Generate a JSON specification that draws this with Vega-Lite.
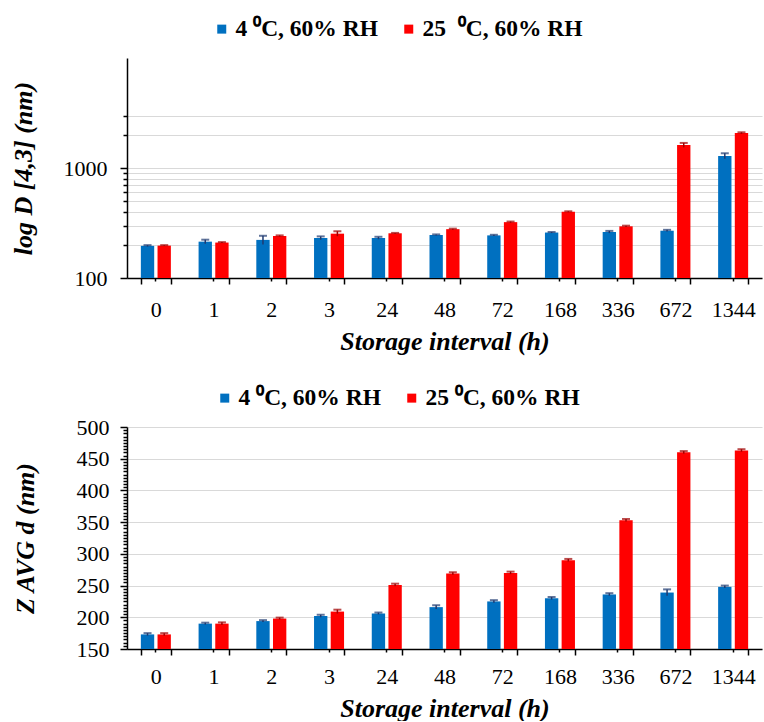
{
  "$schema": "https://vega.github.io/schema/vega-lite/v6.json",
  "background": "white",
  "padding": {"left": 10, "top": 17, "right": 1, "bottom": 0},
  "datasets": {
    "d43": [
      {"t": "0", "s": "4 ⁰C, 60% RH", "v": 196, "lo": 193, "hi": 199},
      {"t": "0", "s": "25\u00a0\u00a0⁰C, 60% RH", "v": 197, "lo": 195, "hi": 199},
      {"t": "1", "s": "4 ⁰C, 60% RH", "v": 214, "lo": 205, "hi": 223},
      {"t": "1", "s": "25\u00a0\u00a0⁰C, 60% RH", "v": 210, "lo": 208, "hi": 212},
      {"t": "2", "s": "4 ⁰C, 60% RH", "v": 222, "lo": 202, "hi": 242},
      {"t": "2", "s": "25\u00a0\u00a0⁰C, 60% RH", "v": 241, "lo": 238, "hi": 244},
      {"t": "3", "s": "4 ⁰C, 60% RH", "v": 231, "lo": 223, "hi": 239},
      {"t": "3", "s": "25\u00a0\u00a0⁰C, 60% RH", "v": 253, "lo": 240, "hi": 266},
      {"t": "24", "s": "4 ⁰C, 60% RH", "v": 231, "lo": 225, "hi": 237},
      {"t": "24", "s": "25\u00a0\u00a0⁰C, 60% RH", "v": 255, "lo": 253, "hi": 257},
      {"t": "48", "s": "4 ⁰C, 60% RH", "v": 246, "lo": 243, "hi": 249},
      {"t": "48", "s": "25\u00a0\u00a0⁰C, 60% RH", "v": 278, "lo": 275, "hi": 281},
      {"t": "72", "s": "4 ⁰C, 60% RH", "v": 244, "lo": 241, "hi": 247},
      {"t": "72", "s": "25\u00a0\u00a0⁰C, 60% RH", "v": 322, "lo": 318, "hi": 326},
      {"t": "168", "s": "4 ⁰C, 60% RH", "v": 259, "lo": 256, "hi": 262},
      {"t": "168", "s": "25\u00a0\u00a0⁰C, 60% RH", "v": 400, "lo": 396, "hi": 404},
      {"t": "336", "s": "4 ⁰C, 60% RH", "v": 262, "lo": 256, "hi": 268},
      {"t": "336", "s": "25\u00a0\u00a0⁰C, 60% RH", "v": 295, "lo": 291, "hi": 299},
      {"t": "672", "s": "4 ⁰C, 60% RH", "v": 269, "lo": 264, "hi": 274},
      {"t": "672", "s": "25\u00a0\u00a0⁰C, 60% RH", "v": 1615, "lo": 1540, "hi": 1690},
      {"t": "1344", "s": "4 ⁰C, 60% RH", "v": 1286, "lo": 1211, "hi": 1361},
      {"t": "1344", "s": "25\u00a0\u00a0⁰C, 60% RH", "v": 2077, "lo": 2042, "hi": 2112}
    ],
    "zavg": [
      {"t": "0", "s": "4 ⁰C, 60% RH", "v": 173, "lo": 171, "hi": 175},
      {"t": "0", "s": "25 ⁰C, 60% RH", "v": 173, "lo": 171, "hi": 175},
      {"t": "1", "s": "4 ⁰C, 60% RH", "v": 190, "lo": 188.5, "hi": 191.5},
      {"t": "1", "s": "25 ⁰C, 60% RH", "v": 190, "lo": 188, "hi": 192},
      {"t": "2", "s": "4 ⁰C, 60% RH", "v": 194, "lo": 192.5, "hi": 195.5},
      {"t": "2", "s": "25 ⁰C, 60% RH", "v": 198, "lo": 196.5, "hi": 199.5},
      {"t": "3", "s": "4 ⁰C, 60% RH", "v": 202, "lo": 200, "hi": 204},
      {"t": "3", "s": "25 ⁰C, 60% RH", "v": 209, "lo": 206, "hi": 212},
      {"t": "24", "s": "4 ⁰C, 60% RH", "v": 206, "lo": 204.5, "hi": 207.5},
      {"t": "24", "s": "25 ⁰C, 60% RH", "v": 251, "lo": 249, "hi": 253},
      {"t": "48", "s": "4 ⁰C, 60% RH", "v": 216, "lo": 213, "hi": 219},
      {"t": "48", "s": "25 ⁰C, 60% RH", "v": 269, "lo": 267, "hi": 271},
      {"t": "72", "s": "4 ⁰C, 60% RH", "v": 225, "lo": 223, "hi": 227},
      {"t": "72", "s": "25 ⁰C, 60% RH", "v": 270, "lo": 268, "hi": 272},
      {"t": "168", "s": "4 ⁰C, 60% RH", "v": 230, "lo": 228, "hi": 232},
      {"t": "168", "s": "25 ⁰C, 60% RH", "v": 290, "lo": 288, "hi": 292},
      {"t": "336", "s": "4 ⁰C, 60% RH", "v": 236, "lo": 234, "hi": 238},
      {"t": "336", "s": "25 ⁰C, 60% RH", "v": 353, "lo": 351, "hi": 355},
      {"t": "672", "s": "4 ⁰C, 60% RH", "v": 239, "lo": 234, "hi": 244},
      {"t": "672", "s": "25 ⁰C, 60% RH", "v": 460, "lo": 458, "hi": 462},
      {"t": "1344", "s": "4 ⁰C, 60% RH", "v": 248, "lo": 246, "hi": 250},
      {"t": "1344", "s": "25 ⁰C, 60% RH", "v": 463, "lo": 461, "hi": 465}
    ]
  },
  "spacing": 32,
  "vconcat": [
    {
      "width": 635,
      "height": 220,
      "data": {"name": "d43"},
      "layer": [
        {
          "mark": {"type": "bar"},
          "encoding": {
            "x": {
              "field": "t", "type": "nominal", "sort": null,
              "scale": {"paddingInner": 0.48, "paddingOuter": 0.24},
              "axis": {"title": "Storage interval (h)", "labelAngle": 0, "tickBand": "extent", "tickSize": 6, "labelPadding": 15, "titlePadding": 8, "orient": "bottom"}
            },
            "xOffset": {"field": "s", "type": "nominal", "sort": null, "scale": {"paddingInner": 0.2, "paddingOuter": 0}},
            "y": {
              "field": "v", "type": "quantitative",
              "scale": {"type": "log", "domain": [100, 3000]},
              "axis": {
                "title": "log D [4,3] (nm)",
                "values": [100, 200, 300, 400, 500, 600, 700, 800, 900, 1000, 2000, 3000],
                "labelExpr": "datum.value == 100 || datum.value == 1000 ? format(datum.value, 'd') : ''",
                "labelOverlap": false,
                "labelPadding": 13,
                "tickSize": {"condition": {"test": "datum.value == 100 || datum.value == 1000", "value": 7}, "value": 4},
                "titlePadding": 27
              }
            },
            "y2": {"datum": 100},
            "color": {
              "field": "s", "type": "nominal", "sort": null,
              "scale": {"range": ["#0070C0", "#FF0000"]},
              "legend": {"orient": "none", "legendX": 83, "legendY": -41, "direction": "horizontal", "title": null}
            }
          }
        },
        {
          "mark": {"type": "rule", "strokeWidth": 1.5},
          "encoding": {
            "x": {"field": "t", "type": "nominal", "sort": null, "scale": {"paddingInner": 0.48, "paddingOuter": 0.24}, "axis": {"title": null, "labels": false, "domain": false, "tickBand": "center", "tickSize": 3, "orient": "bottom", "grid": false}},
            "xOffset": {"field": "s", "type": "nominal", "sort": null, "scale": {"paddingInner": 0.2, "paddingOuter": 0}},
            "y": {"field": "lo", "type": "quantitative"},
            "y2": {"field": "hi"},
            "stroke": {"field": "s", "type": "nominal", "sort": null, "scale": {"range": ["#1F3A70", "#A00000"]}, "legend": null}
          }
        },
        {
          "mark": {"type": "tick", "thickness": 2, "size": 8},
          "encoding": {
            "x": {"field": "t", "type": "nominal", "sort": null, "scale": {"paddingInner": 0.48, "paddingOuter": 0.24}, "axis": null},
            "xOffset": {"field": "s", "type": "nominal", "sort": null, "scale": {"paddingInner": 0.2, "paddingOuter": 0}},
            "y": {"field": "hi", "type": "quantitative"},
            "fill": {"field": "s", "type": "nominal", "sort": null, "scale": {"range": ["#1F3A70", "#A00000"]}, "legend": null}
          }
        }
      ],
      "resolve": {"axis": {"x": "independent"}, "scale": {"x": "shared", "xOffset": "shared"}}
    },
    {
      "width": 635,
      "height": 222,
      "data": {"name": "zavg"},
      "layer": [
        {
          "mark": {"type": "bar"},
          "encoding": {
            "x": {
              "field": "t", "type": "nominal", "sort": null,
              "scale": {"paddingInner": 0.48, "paddingOuter": 0.24},
              "axis": {"title": "Storage interval (h)", "labelAngle": 0, "tickBand": "extent", "tickSize": 6, "labelPadding": 11, "titlePadding": 8, "orient": "bottom"}
            },
            "xOffset": {"field": "s", "type": "nominal", "sort": null, "scale": {"paddingInner": 0.2, "paddingOuter": 0}},
            "y": {
              "field": "v", "type": "quantitative",
              "scale": {"domain": [150, 500], "zero": false},
              "axis": {
                "title": "Z AVG d (nm)",
                "orient": "left",
                "values": [150, 200, 250, 300, 350, 400, 450, 500],
                "format": "d",
                "labelPadding": 11,
                "tickSize": 7,
                "grid": true,
                "titlePadding": 38
              }
            },
            "y2": {"datum": 150},
            "color": {
              "field": "s", "type": "nominal", "sort": null,
              "scale": {"range": ["#0070C0", "#FF0000"]},
              "legend": {"orient": "none", "legendX": 86, "legendY": -41, "direction": "horizontal", "title": null}
            }
          }
        },
        {
          "mark": {"type": "rule", "strokeWidth": 1.5},
          "encoding": {
            "x": {"field": "t", "type": "nominal", "sort": null, "scale": {"paddingInner": 0.48, "paddingOuter": 0.24}, "axis": {"title": null, "labels": false, "domain": false, "tickBand": "center", "tickSize": 3, "orient": "bottom", "grid": false}},
            "xOffset": {"field": "s", "type": "nominal", "sort": null, "scale": {"paddingInner": 0.2, "paddingOuter": 0}},
            "y": {
              "field": "lo", "type": "quantitative",
              "axis": {
                "title": null, "orient": "left", "labels": false, "domain": false, "grid": false, "tickSize": 4,
                "values": [155, 160, 165, 170, 175, 180, 185, 190, 195, 205, 210, 215, 220, 225, 230, 235, 240, 245, 255, 260, 265, 270, 275, 280, 285, 290, 295, 305, 310, 315, 320, 325, 330, 335, 340, 345, 355, 360, 365, 370, 375, 380, 385, 390, 395, 405, 410, 415, 420, 425, 430, 435, 440, 445, 455, 460, 465, 470, 475, 480, 485, 490, 495]
              }
            },
            "y2": {"field": "hi"},
            "stroke": {"field": "s", "type": "nominal", "sort": null, "scale": {"range": ["#1F3A70", "#A00000"]}, "legend": null}
          }
        },
        {
          "mark": {"type": "tick", "thickness": 2, "size": 8},
          "encoding": {
            "x": {"field": "t", "type": "nominal", "sort": null, "scale": {"paddingInner": 0.48, "paddingOuter": 0.24}, "axis": null},
            "xOffset": {"field": "s", "type": "nominal", "sort": null, "scale": {"paddingInner": 0.2, "paddingOuter": 0}},
            "y": {"field": "hi", "type": "quantitative", "axis": null},
            "fill": {"field": "s", "type": "nominal", "sort": null, "scale": {"range": ["#1F3A70", "#A00000"]}, "legend": null}
          }
        }
      ],
      "resolve": {"axis": {"x": "independent", "y": "independent"}, "scale": {"x": "shared", "xOffset": "shared"}}
    }
  ],
  "resolve": {"legend": {"color": "independent"}, "scale": {"color": "independent", "stroke": "independent", "fill": "independent", "x": "independent", "y": "independent", "xOffset": "independent"}},
  "config": {
    "view": {"stroke": null},
    "font": "Liberation Serif, Times New Roman, serif",
    "axis": {
      "labelFont": "Liberation Serif, Times New Roman, serif",
      "labelFontSize": 22,
      "labelColor": "#000000",
      "titleFont": "Liberation Serif, Times New Roman, serif",
      "titleFontSize": 26,
      "titleFontStyle": "italic",
      "titleFontWeight": "bold",
      "titleColor": "#000000",
      "domainColor": "#000000",
      "domainWidth": 1.5,
      "tickColor": "#000000",
      "tickWidth": 1.5,
      "gridColor": "#D9D9D9",
      "gridWidth": 1
    },
    "axisX": {"grid": false},
    "axisY": {"grid": true},
    "legend": {
      "labelFont": "Liberation Serif, Times New Roman, serif",
      "labelFontSize": 23.5,
      "labelFontWeight": "bold",
      "labelColor": "#000000",
      "labelLimit": 0,
      "symbolType": "square",
      "symbolSize": 81,
      "symbolStrokeWidth": 0,
      "labelOffset": 2,
      "columnPadding": 19,
      "padding": 0
    }
  }
}
